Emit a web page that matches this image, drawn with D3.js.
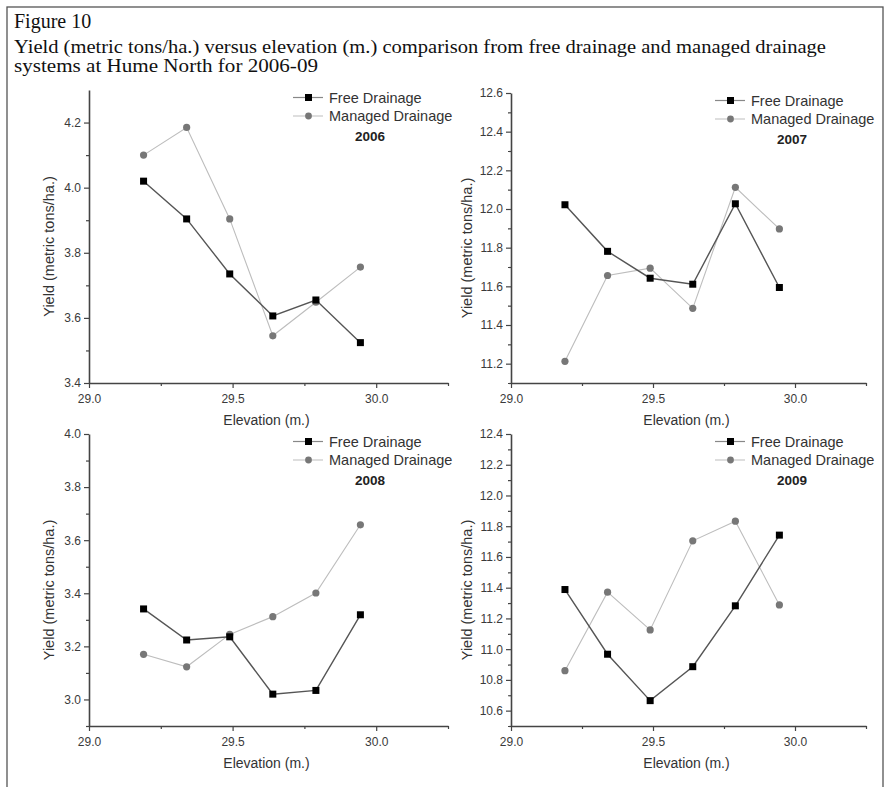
<!DOCTYPE html>
<html>
<head>
<meta charset="utf-8">
<script src="https://cdn.jsdelivr.net/npm/d3@7"></script>
<style>
  body { margin: 0; background: #fff; }
  svg { display: block; }
</style>
</head>
<body>
<div id="chart"></div>
<script>
// Yield vs elevation, Hume North 2006-09
const elevation = [29.19, 29.34, 29.49, 29.64, 29.79, 29.945];
const years = ["2006", "2007", "2008", "2009"];

const free2006 = [4.02, 3.904, 3.735, 3.606, 3.655, 3.524];
const managed2006 = [4.10, 4.185, 3.904, 3.545, 3.648, 3.756];
const free2007 = [12.022, 11.781, 11.642, 11.611, 12.027, 11.594];
const managed2007 = [11.212, 11.656, 11.694, 11.486, 12.112, 11.897];
const free2008 = [3.341, 3.224, 3.236, 3.02, 3.034, 3.319];
const managed2008 = [3.17, 3.123, 3.245, 3.312, 3.401, 3.658];
const free2009 = [11.388, 10.967, 10.665, 10.886, 11.282, 11.742];
const managed2009 = [10.86, 11.371, 11.125, 11.705, 11.833, 11.288];

const xDomain = [29.0, 30.25];
const xTicks = [29.0, 29.5, 30.0];
const xMinorTicks = [29.25, 29.75, 30.25];
const yDomains = [[3.4, 4.3], [11.1, 12.6], [2.9, 4.0], [10.5, 12.4]];
const yTicks = [
  [3.4, 3.6, 3.8, 4.0, 4.2],
  [11.2, 11.4, 11.6, 11.8, 12.0, 12.2, 12.4, 12.6],
  [3.0, 3.2, 3.4, 3.6, 3.8, 4.0],
  [10.6, 10.8, 11.0, 11.2, 11.4, 11.6, 11.8, 12.0, 12.2, 12.4]
];
const yMinorTicks = [
  [3.5, 3.7, 3.9, 4.1],
  [11.1, 11.3, 11.5, 11.7, 11.9, 12.1, 12.3, 12.5],
  [2.9, 3.1, 3.3, 3.5, 3.7, 3.9],
  [10.5, 10.7, 10.9, 11.1, 11.3, 11.5, 11.7, 11.9, 12.1, 12.3]
];
const freeSeries = [free2006, free2007, free2008, free2009];
const managedSeries = [managed2006, managed2007, managed2008, managed2009];
const seriesNames = ["Free Drainage", "Managed Drainage"];
const titleLines = [
  "Figure 10",
  "Yield (metric tons/ha.) versus elevation (m.) comparison from free drainage and managed drainage",
  "systems at Hume North for 2006-09"
];

const WIDTH = 886, HEIGHT = 787;

// plot boxes for the four panels
const boxes = [
  {x: 89, y: 90, w: 359, h: 293, right: false},
  {x: 511, y: 93, w: 355, h: 290, right: true},
  {x: 89, y: 434, w: 359, h: 292, right: false},
  {x: 511, y: 434, w: 355, h: 292, right: true}
];

const axisColor = "#444";
const sansFont = "'Liberation Sans', Arial, sans-serif";

const svg = d3.select("#chart")
  .append("svg")
  .attr("width", WIDTH)
  .attr("height", HEIGHT);

// frame
svg.append("rect")
  .attr("x", 7)
  .attr("y", 7)
  .attr("width", 876)
  .attr("height", 800)
  .attr("fill", "none")
  .attr("stroke", "#555")
  .attr("stroke-width", 1.3);

// figure caption
const lineY = [28, 53, 72];
const lineLen = [null, 812, 304];
titleLines.forEach((t, i) => {
  const txt = svg.append("text")
    .attr("x", 14)
    .attr("y", lineY[i])
    .style("font-family", "'Liberation Serif', 'Times New Roman', serif")
    .style("font-size", i === 0 ? "20px" : "19px")
    .attr("fill", "#111")
    .text(t);
  if (lineLen[i]) {
    txt.attr("textLength", lineLen[i]).attr("lengthAdjust", "spacingAndGlyphs");
  }
});

function drawPanel(i) {
  const b = boxes[i];
  const g = svg.append("g").attr("transform", `translate(${b.x}, ${b.y})`);

  const x = d3.scaleLinear().domain(xDomain).range([0, b.w]);
  const y = d3.scaleLinear().domain(yDomains[i]).range([b.h, 0]);

  // minor ticks first, then major
  g.append("g")
    .attr("transform", `translate(0, ${b.h})`)
    .call(d3.axisBottom(x).tickValues(xMinorTicks).tickSize(3).tickSizeOuter(0).tickFormat(""))
    .call(s => s.select(".domain").remove());
  g.append("g")
    .call(d3.axisLeft(y).tickValues(yMinorTicks[i]).tickSize(3).tickSizeOuter(0).tickFormat(""))
    .call(s => s.select(".domain").remove());

  const xAxis = g.append("g")
    .attr("transform", `translate(0, ${b.h})`)
    .call(d3.axisBottom(x).tickValues(xTicks).tickSize(5).tickSizeOuter(0).tickPadding(6).tickFormat(d3.format(".1f")));
  const yAxis = g.append("g")
    .call(d3.axisLeft(y).tickValues(yTicks[i]).tickSize(5).tickSizeOuter(0).tickPadding(3).tickFormat(d3.format(".1f")));

  g.selectAll(".tick line").attr("stroke", axisColor).attr("stroke-width", 1.2);
  [xAxis, yAxis].forEach(a => {
    a.select(".domain").attr("stroke", axisColor).attr("stroke-width", 1.6);
    a.selectAll("text")
      .style("font-family", sansFont)
      .style("font-size", "12px")
      .attr("fill", "#3a3a3a");
  });

  // axis titles
  g.append("text")
    .attr("x", b.w / 2 - 2)
    .attr("y", b.h + 42)
    .attr("text-anchor", "middle")
    .style("font-family", sansFont)
    .style("font-size", "14px")
    .attr("fill", "#333")
    .text("Elevation (m.)");

  const tx = b.right ? -39 : -35;
  g.append("text")
    .attr("transform", `translate(${tx}, ${b.h / 2 + 10}) rotate(-90)`)
    .attr("text-anchor", "middle")
    .style("font-family", sansFont)
    .style("font-size", "14.5px")
    .attr("fill", "#333")
    .text("Yield (metric tons/ha.)");

  const line = d3.line()
    .x((d, k) => x(elevation[k]))
    .y(d => y(d));

  // managed drainage
  g.append("path")
    .datum(managedSeries[i])
    .attr("d", line)
    .attr("fill", "none")
    .attr("stroke", "#bdbdbd")
    .attr("stroke-width", 1.1);

  // free drainage
  g.append("path")
    .datum(freeSeries[i])
    .attr("d", line)
    .attr("fill", "none")
    .attr("stroke", "#555")
    .attr("stroke-width", 1.4);

  g.selectAll(".managed-dot")
    .data(managedSeries[i])
    .enter()
    .append("circle")
    .attr("class", "managed-dot")
    .attr("cx", (d, k) => x(elevation[k]))
    .attr("cy", d => y(d))
    .attr("r", 3.6)
    .attr("fill", "#777");

  g.selectAll(".free-dot")
    .data(freeSeries[i])
    .enter()
    .append("rect")
    .attr("class", "free-dot")
    .attr("x", (d, k) => x(elevation[k]) - 3.5)
    .attr("y", d => y(d) - 3.5)
    .attr("width", 7)
    .attr("height", 7)
    .attr("fill", "#000");

  // legend
  const lg = g.append("g").attr("transform", "translate(204, 7.5)");
  seriesNames.forEach((name, k) => {
    const row = lg.append("g").attr("transform", `translate(0, ${k * 18.5})`);
    row.append("line")
      .attr("x1", 0).attr("x2", 30)
      .attr("stroke", k === 0 ? "#888" : "#c8c8c8")
      .attr("stroke-width", 1.2);
    if (k === 0) {
      row.append("rect").attr("x", 12).attr("y", -3.5).attr("width", 7).attr("height", 7).attr("fill", "#000");
    } else {
      row.append("circle").attr("cx", 15.5).attr("r", 3.4).attr("fill", "#777");
    }
    row.append("text")
      .attr("x", 36)
      .attr("y", 5)
      .style("font-family", sansFont)
      .style("font-size", "14.5px")
      .attr("fill", "#333")
      .text(name);
  });

  g.append("text")
    .attr("x", 281)
    .attr("y", 51)
    .attr("text-anchor", "middle")
    .style("font-family", sansFont)
    .style("font-size", "13.5px")
    .style("font-weight", "bold")
    .attr("fill", "#222")
    .text(years[i]);
}

years.forEach((yr, i) => drawPanel(i));
</script>
</body>
</html>
